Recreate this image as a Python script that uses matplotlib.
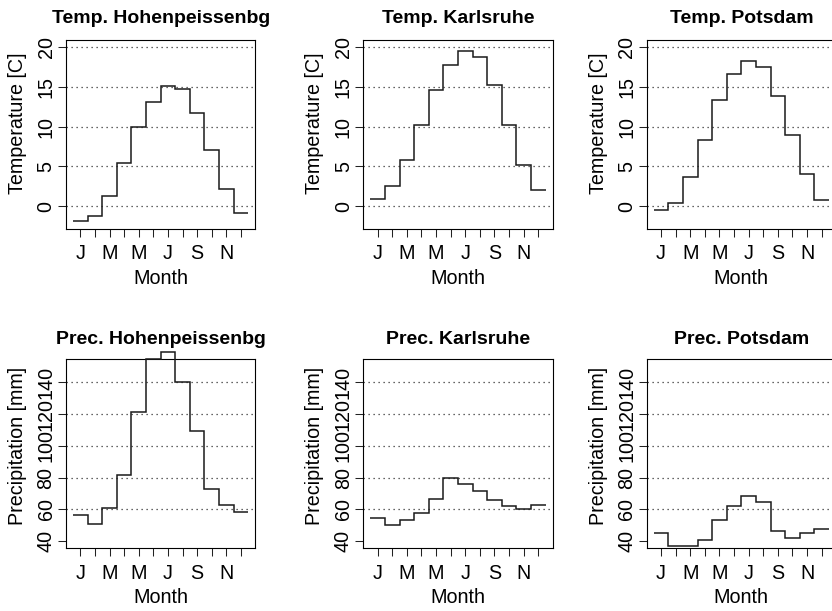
import numpy as np
import matplotlib.pyplot as plt

plt.rcParams['font.family'] = ['Liberation Sans', 'DejaVu Sans']
plt.rcParams['font.size'] = 14.2

# Monatswerte (Jan..Dez)
months       = np.arange(1, 13)
month_labels = ['J', '', 'M', '', 'M', '', 'J', '', 'S', '', 'N', '']
stations     = ['Hohenpeissenbg', 'Karlsruhe', 'Potsdam']

temp_hohen = [-1.9, -1.2, 1.3, 5.4, 10.0, 13.1, 15.05, 14.7, 11.7, 7.1, 2.2, -0.9]
temp_karls = [0.9, 2.5, 5.8, 10.15, 14.6, 17.8, 19.5, 18.8, 15.2, 10.2, 5.2, 2.0]
temp_potsd = [-0.55, 0.35, 3.7, 8.3, 13.3, 16.55, 18.3, 17.45, 13.8, 9.0, 4.0, 0.75]

prec_hohen = [56.6, 50.8, 61.0, 81.5, 121.0, 154.8, 159.2, 140.0, 109.6, 72.6, 62.9, 58.7]
prec_karls = [54.8, 50.4, 53.5, 57.7, 66.9, 80.1, 76.1, 71.7, 65.9, 62.5, 60.2, 62.9]
prec_potsd = [45.0, 37.3, 36.9, 40.6, 53.5, 62.5, 68.6, 65.0, 46.7, 42.1, 45.0, 48.0]

temp_ticks = [0, 5, 10, 15, 20]
temp_grid  = [0, 5, 10, 15, 20]
prec_ticks = [40, 60, 80, 100, 120, 140]
prec_grid  = [60, 80, 100, 120, 140]

temps = [temp_hohen, temp_karls, temp_potsd]
precs = [prec_hohen, prec_karls, prec_potsd]

W, H = 832, 611
fig = plt.figure(figsize=(W / 100, H / 100), dpi=100)

lefts = [66, 363.3, 646.7]   # linke Kante der Panels in Pixel
tops  = [40, 359.3]          # obere Kante der Zeilen in Pixel
aw, ah = 189.3, 189.0


def rlim(lo, hi):
    # R-Stil: 4 % Zugabe
    d = (hi - lo) * 0.04
    return lo - d, hi + d


def panel(ax, vals, title, ylabel, yticks, grid, ylim, tpad, ly):
    edges = np.append(months - 0.5, months[-1] + 0.5)
    for g in grid:
        ax.axhline(g, color='#333333', lw=0.9, ls=(0, (1, 3)), zorder=1)
    ax.stairs(vals, edges, baseline=None, color='#1a1a1a', lw=1.1,
              clip_on=False, zorder=3)
    ax.set_xlim(*rlim(edges[0], edges[-1]))
    ax.set_ylim(*rlim(*ylim))
    ax.set_xticks(months)
    ax.set_xticklabels(month_labels)
    ax.set_yticks(yticks)
    ax.set_yticklabels([str(t) for t in yticks], rotation=90, va='center')
    ax.tick_params(direction='out', length=5.5, width=0.75, color='#222222')
    ax.tick_params(axis='x', pad=5.5)
    ax.tick_params(axis='y', pad=2)
    for s in ax.spines.values():
        s.set_linewidth(0.8)
    ax.set_title(title, fontweight='bold', fontsize=14, pad=tpad)
    ax.set_xlabel('Month', labelpad=4)
    ax.set_ylabel(ylabel)
    ax.yaxis.set_label_coords(-0.205, ly)


for i, st in enumerate(stations):
    ax = fig.add_axes([lefts[i] / W, 1 - (tops[0] + ah) / H, aw / W, ah / H])
    panel(ax, temps[i], 'Temp. ' + st, 'Temperature [C]',
          temp_ticks, temp_grid, (-2, 20), 12.5, 0.56)
    ax = fig.add_axes([lefts[i] / W, 1 - (tops[1] + ah) / H, aw / W, ah / H])
    panel(ax, precs[i], 'Prec. ' + st, 'Precipitation [mm]',
          prec_ticks, prec_grid, (40, 150), 11, 0.54)

fig.savefig('out.png', dpi=100)
